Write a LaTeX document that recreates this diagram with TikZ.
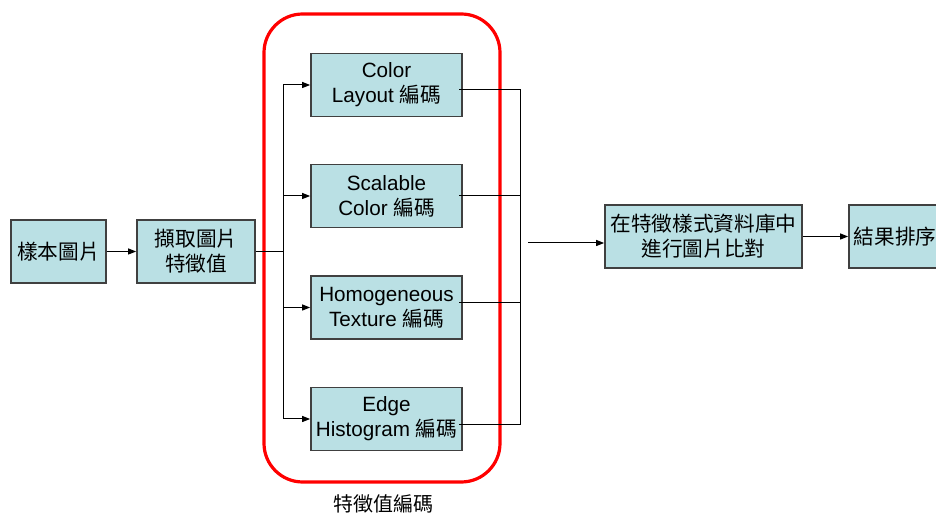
\documentclass[tikz,border=0pt]{standalone}
\usepackage{fontspec}
\setmainfont{Liberation Sans}
\newfontfamily\cjk{Noto Sans CJK TC}
\usetikzlibrary{arrows.meta}
\definecolor{boxfill}{RGB}{186,224,228}
\definecolor{boxline}{RGB}{64,64,64}
\definecolor{grpred}{RGB}{255,0,0}
\begin{document}
\begin{tikzpicture}[x=0.75pt,y=-0.75pt,
  box/.style={draw=boxline,line width=1.3pt,fill=boxfill,align=center,inner sep=0pt,
    font=\fontsize{15.5}{18.75}\selectfont,minimum height=47.25pt},
  conn/.style={line width=0.75pt,black},
  arr/.style={conn,-{Triangle[length=6pt,width=4.5pt]}}]
\clip (0,0) rectangle (936,516);
\fill[white] (0,0) rectangle (936,516);
% group
\draw[grpred,line width=2.4pt,rounded corners=29pt] (264,14) rectangle (500,482);
\node[font=\cjk\fontsize{15}{18}\selectfont] (glab) at (383,504) {特徵值編碼};
% boxes
\node[box,minimum width=71.25pt] (b1) at (58.5,251.5) {\cjk 樣本圖片};
\node[box,minimum width=88.5pt] (b2) at (196,251.5) {\cjk 擷取圖片\\\cjk 特徵值};
\node[box,minimum width=113.25pt] (f1) at (386.5,85) {Color\\Layout {\cjk 編碼}};
\node[box,minimum width=113.25pt] (f2) at (386.5,196) {Scalable\\Color {\cjk 編碼}};
\node[box,minimum width=113.25pt] (f3) at (386.5,307.5) {Homogeneous\\Texture {\cjk 編碼}};
\node[box,minimum width=113.25pt] (f4) at (386.5,419) {Edge\\Histogram {\cjk 編碼}};
\node[box,minimum width=147.75pt] (b5) at (703.5,236.5) {\cjk 在特徵樣式資料庫中\\\cjk 進行圖片比對};
\node[box,minimum width=69pt] (b6) at (895,236.5) {\cjk 結果排序};
% connectors
\draw[arr] (b1) -- (b2);
\coordinate (sp) at (283,251.5);
\draw[conn] (b2.east) -- (sp);
\draw[conn] (sp |- f1.west) -- (sp |- f4.west);
\foreach \f in {f1,f2,f3,f4} \draw[arr] (sp |- \f.west) -- (\f.west);
\coordinate (o1) at (459,90);
\coordinate (o2) at (459,196);
\coordinate (o3) at (459,303);
\coordinate (o4) at (459,425);
\coordinate (rv) at (520,90);
\draw[conn] (o1) -- (rv) -- (rv |- o4) -- (o4);
\draw[conn] (o2) -- (rv |- o2);
\draw[conn] (o3) -- (rv |- o3);
\coordinate (a0) at (528,243);
\draw[arr] (a0) -- (a0 -| b5.west);
\draw[arr] (b5) -- (b6);
\end{tikzpicture}
\end{document}
